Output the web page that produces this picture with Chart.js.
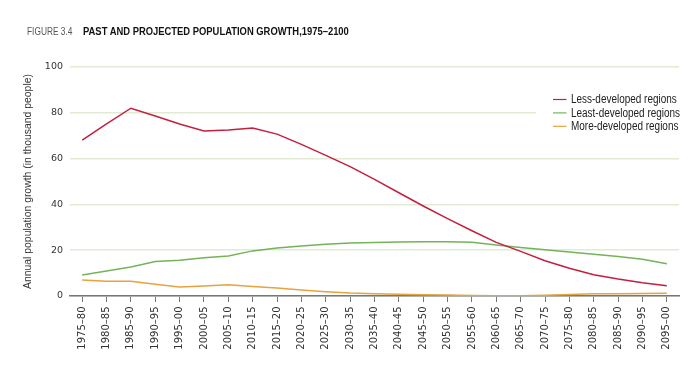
<!DOCTYPE html>
<html>
<head>
<meta charset="utf-8">
<script src="https://cdn.jsdelivr.net/npm/chart.js@4"></script>
<style>
  html, body { margin: 0; padding: 0; background: #fff; }
  #wrap { position: relative; width: 700px; height: 369px; }
  .tit { position: absolute; top: 24.7px; font-size: 10.7px; line-height: 12px; transform-origin: 0 0;
         font-family: 'Liberation Sans', Arial, sans-serif; white-space: nowrap; }
  #tnum { left: 26.7px; color: #555; transform: scaleX(0.78); }
  #ttxt { left: 82.7px; color: #111; font-weight: bold; transform: scaleX(0.88); }
  canvas { position: absolute; left: 0; top: 0; }
</style>
</head>
<body>
<div id="wrap">
  <canvas id="myChart" width="700" height="369"></canvas>
  <div class="tit" id="tnum">FIGURE 3.4</div>
  <div class="tit" id="ttxt">PAST AND PROJECTED POPULATION GROWTH,1975–2100</div>
</div>
<script>
// periodos de cinco años
const periodos = ['1975–80', '1980–85', '1985–90', '1990–95', '1995–00', '2000–05', '2005–10',
  '2010–15', '2015–20', '2020–25', '2025–30', '2030–35', '2035–40', '2040–45', '2045–50',
  '2050–55', '2055–60', '2060–65', '2065–70', '2070–75', '2075–80', '2080–85', '2085–90',
  '2090–95', '2095–00'];

// crecimiento anual (miles de personas)
const lessDeveloped = [68.1, 75.2, 82.0, 78.6, 75.1, 72.1, 72.5, 73.4, 70.7, 66.2, 61.4, 56.5,
  50.9, 45.1, 39.3, 33.8, 28.5, 23.4, 19.5, 15.4, 12.1, 9.3, 7.4, 5.8, 4.5];
const leastDeveloped = [9.2, 10.9, 12.7, 15.1, 15.6, 16.7, 17.5, 19.7, 21.0, 21.8, 22.6, 23.1,
  23.4, 23.6, 23.7, 23.7, 23.5, 22.3, 21.2, 20.2, 19.2, 18.2, 17.2, 16.0, 14.1];
const moreDeveloped = [7.0, 6.4, 6.4, 5.1, 3.9, 4.4, 4.9, 4.1, 3.5, 2.6, 1.9, 1.3,
  1.0, 0.8, 0.6, 0.4, 0.2, 0.1, 0.1, 0.3, 0.7, 1.0, 1.0, 1.1, 1.2];

const yTicks = [0, 20, 40, 60, 80, 100];

// leyenda dentro del area del grafico (texto estrecho)
const leyenda = {
  id: 'leyenda',
  afterDraw(chart) {
    const c = chart.ctx;
    const area = chart.chartArea;
    c.save();
    c.fillStyle = '#fff';
    c.fillRect(536, 90, area.right - 536 + 2, 44);
    c.textBaseline = 'middle';
    chart.data.datasets.forEach((ds, i) => {
      const y = 99.5 + i * 13.4;
      c.strokeStyle = ds.borderColor;
      c.lineWidth = 1.2;
      c.beginPath();
      c.moveTo(553, y);
      c.lineTo(566.5, y);
      c.stroke();
      c.save();
      c.translate(571, y + 0.5);
      c.scale(0.83, 1);
      c.font = '12px "Liberation Sans", Arial, sans-serif';
      c.fillStyle = '#222';
      c.fillText(ds.label, 0, 0);
      c.restore();
    });
    c.restore();
  }
};

const ctx = document.getElementById('myChart');
const myChart = new Chart(ctx, {
  type: 'line',
  data: {
    labels: periodos,
    datasets: [
      { label: 'Less-developed regions', data: lessDeveloped, borderColor: '#c51f3f' },
      { label: 'Least-developed regions', data: leastDeveloped, borderColor: '#74b35a' },
      { label: 'More-developed regions', data: moreDeveloped, borderColor: '#e8a23e' }
    ]
  },
  options: {
    responsive: false,
    animation: false,
    layout: { padding: { top: 67, right: 21, bottom: 0, left: 0 } },
    elements: {
      line: { borderWidth: 1.5, tension: 0, fill: false },
      point: { radius: 0 }
    },
    plugins: { legend: { display: false }, tooltip: { enabled: false } },
    scales: {
      x: {
        offset: true,
        grid: { drawOnChartArea: false, drawTicks: true, tickLength: 6, tickColor: '#777', tickWidth: 1 },
        border: { color: '#777', width: 1.5 },
        ticks: {
          autoSkip: false, minRotation: 90, maxRotation: 90, padding: 4.5, color: '#333',
          font: { family: 'DejaVu Sans', size: 10 }
        },
        afterFit: (s) => { s.height = 73; }
      },
      y: {
        min: 0, max: 100,
        afterBuildTicks: (s) => { s.ticks = yTicks.map(v => ({ value: v })); },
        ticks: { padding: 7, color: '#333', font: { family: 'DejaVu Sans', size: 9.5 } },
        grid: { color: '#e1ebd3', lineWidth: 1.5, drawTicks: false },
        border: { display: false },
        title: {
          display: true, text: 'Annual population growth (in thousand people)', color: '#333',
          font: { family: 'Liberation Sans', size: 10.4 }, padding: { top: 22, bottom: 0 }
        },
        afterFit: (s) => { s.width = 70; }
      }
    }
  },
  plugins: [leyenda]
});
</script>
</body>
</html>
